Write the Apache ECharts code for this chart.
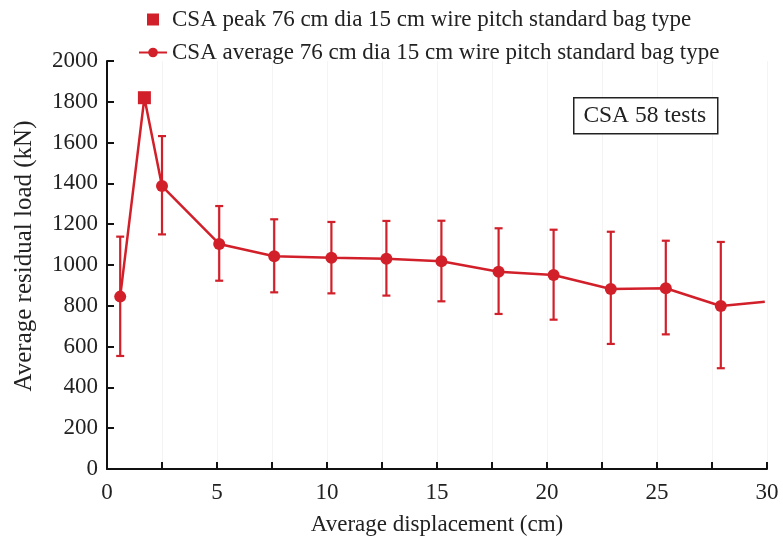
<!DOCTYPE html>
<html>
<head>
<meta charset="utf-8">
<script src="https://cdn.jsdelivr.net/npm/echarts@6/dist/echarts.min.js"></script>
<style>
  html, body { margin: 0; padding: 0; background: #fff; }
  #chart { width: 783px; height: 546px; }
</style>
</head>
<body>
<div id="chart"></div>
<script>
// Average residual load at each displacement step, with min/max spread
const avgX    = [0.6, 2.5, 5.1, 7.6, 10.2, 12.7, 15.2, 17.8, 20.3, 22.9, 25.4, 27.9];
const avgLoad = [845, 1387, 1103, 1043, 1036, 1031, 1018, 967, 951, 882, 886, 799];
const errHigh = [1139, 1632, 1289, 1224, 1211, 1216, 1217, 1180, 1173, 1163, 1119, 1113];
const errLow  = [554, 1150, 923, 866, 861, 850, 822, 760, 732, 613, 660, 494];
// Peak load and the last recorded point of the curve
const peakPoint = [1.7, 1820];
const tailPoint = [29.9, 820];

const xTicks = [0, 5, 10, 15, 20, 25, 30];

const RED = '#d2202a';
const FONT = 'Liberation Serif';
const INK = '#222';

// curve: first reading, then the peak, then the rest, then the tail
const curve = [[avgX[0], avgLoad[0]], peakPoint.slice()];
for (let i = 1; i < avgX.length; i++) curve.push([avgX[i], avgLoad[i]]);
curve.push(tailPoint.slice());

const markerIdx = new Set();
curve.forEach((p, i) => { if (avgX.includes(p[0])) markerIdx.add(i); });

const chart = echarts.init(document.getElementById('chart'), null, { renderer: 'canvas' });

chart.setOption({
  animation: false,
  backgroundColor: '#fff',
  textStyle: { fontFamily: FONT, color: INK },
  grid: { left: 107, right: 16, top: 61, bottom: 77, containLabel: false, outerBoundsMode: 'none' },
  legend: {
    orient: 'vertical',
    left: 133,
    top: 3,
    itemGap: 10,
    itemWidth: 28,
    itemHeight: 12,
    textStyle: { fontFamily: FONT, fontSize: 23, color: INK },
    data: [
      { name: 'CSA peak 76 cm dia 15 cm wire pitch standard bag type',
        icon: 'path://M0,0 L10,0 L10,10 L0,10 Z' },
      { name: 'CSA average 76 cm dia 15 cm wire pitch standard bag type' }
    ]
  },
  xAxis: {
    type: 'value',
    min: 0, max: 30, interval: 2.5,
    name: 'Average displacement (cm)',
    nameLocation: 'middle',
    nameGap: 44,
    nameTextStyle: { fontFamily: FONT, fontSize: 23, color: INK },
    axisLine: { lineStyle: { color: '#111', width: 2 } },
    axisTick: { inside: true, length: 7, lineStyle: { color: '#111', width: 2 } },
    axisLabel: {
      fontFamily: FONT, fontSize: 23, color: INK, margin: 12,
      formatter: v => xTicks.includes(v) ? String(v) : ''
    },
    splitLine: { show: true, lineStyle: { color: '#f4f4f4', width: 1 } }
  },
  yAxis: {
    type: 'value',
    min: 0, max: 2000, interval: 200,
    name: 'Average residual load (kN)',
    nameLocation: 'middle',
    nameGap: 70,
    nameRotate: 90,
    nameTextStyle: { fontFamily: FONT, fontSize: 25, color: INK, padding: [0, 0, 0, 18] },
    axisLine: { show: true, lineStyle: { color: '#111', width: 2 } },
    axisTick: { show: true, inside: true, length: 7, lineStyle: { color: '#111', width: 2 } },
    axisLabel: { fontFamily: FONT, fontSize: 23, color: INK, margin: 9, formatter: v => String(v) },
    splitLine: { show: false }
  },
  graphic: [
    {
      type: 'group',
      left: 573, top: 97,
      children: [
        { type: 'rect', z: 100, shape: { x: 0, y: 0, width: 144, height: 36 },
          style: { fill: '#fff', stroke: '#222', lineWidth: 1.5 } },
        { type: 'text', z: 101, x: 71, y: 18,
          style: { text: 'CSA 58 tests', fontFamily: FONT, fontSize: 23.5, fill: INK,
                   align: 'center', verticalAlign: 'middle' } }
      ]
    }
  ],
  series: [
    {
      name: 'CSA average 76 cm dia 15 cm wire pitch standard bag type',
      type: 'line',
      z: 3,
      data: curve.map((p, i) => ({
        value: p,
        symbol: markerIdx.has(i) ? 'circle' : 'none'
      })),
      symbol: 'circle',
      symbolSize: 12,
      lineStyle: { color: RED, width: 2.5 },
      itemStyle: { color: RED },
      color: RED
    },
    {
      name: 'CSA average 76 cm dia 15 cm wire pitch standard bag type',
      type: 'custom',
      z: 2,
      data: avgX.map((x, i) => [x, errLow[i], errHigh[i]]),
      renderItem: function (params, api) {
        const x = api.value(0);
        const lo = api.coord([x, api.value(1)]);
        const hi = api.coord([x, api.value(2)]);
        const cap = 4;
        const st = { stroke: RED, lineWidth: 2.2 };
        return {
          type: 'group',
          children: [
            { type: 'line', shape: { x1: lo[0], y1: lo[1], x2: hi[0], y2: hi[1] }, style: st },
            { type: 'line', shape: { x1: hi[0] - cap, y1: hi[1], x2: hi[0] + cap, y2: hi[1] }, style: st },
            { type: 'line', shape: { x1: lo[0] - cap, y1: lo[1], x2: lo[0] + cap, y2: lo[1] }, style: st }
          ]
        };
      }
    },
    {
      name: 'CSA peak 76 cm dia 15 cm wire pitch standard bag type',
      type: 'scatter',
      z: 4,
      data: [peakPoint],
      symbol: 'rect',
      symbolSize: 13,
      itemStyle: { color: RED, opacity: 1 }
    }
  ]
});
</script>
</body>
</html>
